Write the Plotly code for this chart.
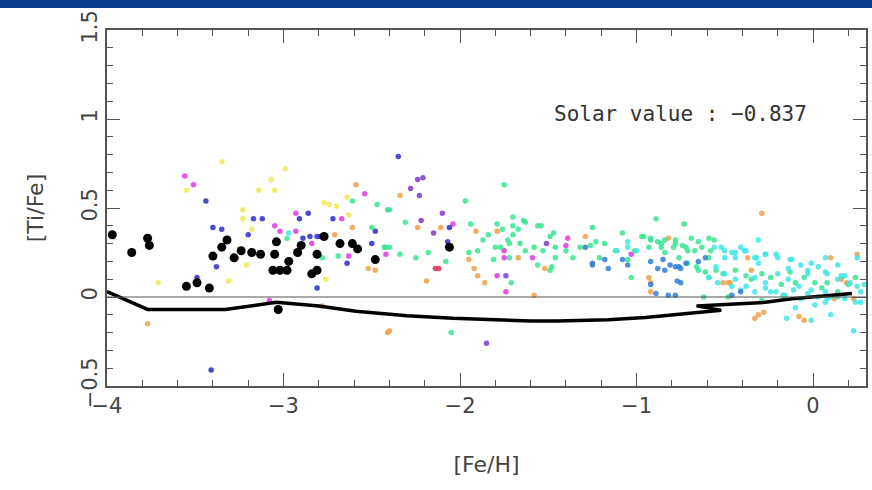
import plotly.graph_objects as go

# star samples, [Fe/H] vs [Ti/Fe], grouped by source colour
black_x = [-3.97, -3.86, -3.77, -3.76, -3.55, -3.49, -3.42, -3.40, -3.35, -3.32, -3.28, -3.24,
           -3.18, -3.13, -3.05, -3.04, -3.06, -3.02, -2.98, -2.97, -2.92, -2.90, -3.03, -2.84,
           -2.81, -2.81, -2.77, -2.68, -2.61, -2.58, -2.48, -2.06]
black_y = [0.35, 0.25, 0.33, 0.29, 0.06, 0.08, 0.05, 0.23, 0.28, 0.32, 0.22, 0.26,
           0.25, 0.24, 0.24, 0.31, 0.15, 0.15, 0.15, 0.20, 0.25, 0.29, -0.07, 0.13,
           0.15, 0.24, 0.34, 0.30, 0.30, 0.27, 0.21, 0.28]

yellow_x = [-3.35, -3.55, -3.07, -2.99, -3.14, -3.05, -3.23, -3.23, -3.18, -2.77, -2.74, -2.70,
            -2.64, -2.63, -3.25, -3.21, -3.71, -3.31, -2.76]
yellow_y = [0.76, 0.60, 0.66, 0.72, 0.60, 0.60, 0.49, 0.44, 0.38, 0.53, 0.52, 0.51,
            0.56, 0.46, 0.27, 0.18, 0.08, 0.09, 0.10]

magenta_x = [-3.56, -3.51, -2.93, -3.05, -3.02, -2.93, -2.84, -2.67, -3.27, -2.63, -3.08, -2.54,
             -2.42, -2.04, -1.39, -1.40, -1.75, -1.75, -1.59, -1.79, -1.74, -1.03]
magenta_y = [0.68, 0.63, 0.47, 0.40, 0.37, 0.37, 0.30, 0.44, 0.22, 0.23, -0.02, 0.58,
             0.24, 0.41, 0.33, 0.29, 0.26, 0.22, 0.22, 0.12, 0.03, 0.24]

blue_x = [-3.44, -3.40, -3.35, -3.17, -3.12, -3.20, -2.91, -2.86, -2.72, -2.89, -2.85, -2.81,
          -2.79, -2.64, -3.49, -3.38, -2.81, -3.41, -2.48, -2.50, -2.35, -2.07, -2.06]
blue_y = [0.54, 0.39, 0.38, 0.44, 0.44, 0.35, 0.44, 0.47, 0.44, 0.33, 0.34, 0.34,
          0.34, 0.19, 0.11, 0.17, 0.05, -0.41, 0.37, 0.30, 0.79, 0.31, 0.39]

purple_x = [-2.24, -2.21, -2.28, -2.23, -2.10, -2.22, -2.15, -1.51, -1.74, -1.85]
purple_y = [0.66, 0.67, 0.61, 0.57, 0.47, 0.43, 0.36, 0.30, 0.12, -0.26]

red_x = [-2.12, -2.14]
red_y = [0.16, 0.16]

orange_x = [-3.77, -2.78, -2.59, -2.61, -2.52, -2.48, -2.71, -2.41, -2.34, -2.11, -2.24, -1.91,
            -1.79, -1.29, -1.67, -1.95, -2.19, -1.92, -1.90, -1.86, -1.58, -1.52, -2.40, -0.29,
            -0.82, 0.10, 0.25, -0.37, -0.93, -0.92, -0.92, -0.51, -0.48, -0.35, 0.16, 0.19,
            0.23, 0.12, -0.33, -0.31, -0.28, -0.08, -0.05, -0.47]
orange_y = [-0.15, -0.05, 0.63, 0.39, 0.16, 0.15, 0.35, -0.20, 0.57, 0.39, 0.39, 0.37,
            0.37, 0.34, 0.22, 0.21, 0.09, 0.16, 0.12, 0.08, 0.01, 0.16, -0.19, 0.47,
            0.33, 0.22, 0.24, 0.22, 0.11, 0.08, 0.03, 0.08, 0.08, 0.15, 0.10, 0.08,
            -0.01, -0.01, -0.12, -0.10, -0.085, -0.11, -0.13, 0.08]

green_x = [-2.61, -2.47, -2.41, -2.50, -2.43, -2.69, -2.78, -2.98,
           -2.40, -1.75, -1.97, -2.31, -1.94, -1.79, -1.76, -1.70, -1.64, -1.63, -1.70, -1.67,
           -1.70, -1.73, -1.72, -1.87, -1.84, -1.56, -1.54, -1.47, -1.49, -1.25, -1.23, -1.26,
           -1.32, -1.58, -1.46, -1.53, -1.63, -1.66, -1.77, -1.80, -1.72, -1.81, -1.90, -1.95,
           -2.08, -2.18, -2.25, -2.34, -2.42, -2.40, -1.46, -1.36, -1.40, -1.21, -1.71, -1.49,
           -1.48, -1.56, -2.05,
           -0.89, -0.73, -1.08, -0.96, -0.92, -0.88, -0.84, -0.78, -0.74, -0.69, -0.65, -0.59,
           -0.56, -0.93, -0.86, -0.79, -0.71, -0.63, -0.58, -1.03, -0.62,
           -0.66, -0.61, -0.55, -0.51, -0.44, -0.38, -0.35, -0.29, -0.24, -0.18, -0.13, -0.10,
           -0.05, 0.01, 0.05, 0.08, 0.14, 0.20, 0.24, -0.29, -0.48,
           -0.97, -0.92, -0.86, -0.78, -0.72, -0.67, -0.59, -1.18, -1.12, -1.05, -1.01, -0.65,
           -0.59, -0.71, -0.76, -0.84]
green_y = [0.54, 0.52, 0.49, 0.39, 0.28, 0.23, 0.22, 0.33,
           0.49, 0.63, 0.54, 0.42, 0.41, 0.41, 0.38, 0.45, 0.43, 0.42, 0.40, 0.38,
           0.35, 0.32, 0.30, 0.32, 0.35, 0.40, 0.40, 0.36, 0.34, 0.39, 0.31, 0.29,
           0.28, 0.28, 0.28, 0.26, 0.26, 0.30, 0.28, 0.28, 0.22, 0.21, 0.26, 0.25,
           0.20, 0.25, 0.22, 0.24, 0.28, 0.28, 0.22, 0.22, 0.26, 0.22, 0.08, 0.15,
           0.17, 0.18, -0.20,
           0.44, 0.41, 0.36, 0.34, 0.33, 0.31, 0.32, 0.30, 0.29, 0.33, 0.31, 0.33,
           0.32, 0.28, 0.28, 0.28, 0.26, 0.28, 0.26, 0.11, 0.00,
           0.17, 0.14, 0.15, 0.13, 0.15, 0.12, 0.10, 0.13, 0.11, 0.07, 0.14, 0.08,
           0.11, 0.08, 0.05, 0.08, 0.03, 0.07, 0.11, -0.02, 0.00,
           0.34, 0.32, 0.30, 0.32, 0.28, 0.26, 0.22, 0.30, 0.26, 0.21, 0.26, 0.15,
           0.11, 0.19, 0.22, 0.25]

cyan_x = [-2.97, -0.31, -1.05,
          -0.52, -0.46, -0.41, -0.39, -0.50, -0.44, -0.32, -0.27, -0.21, -0.13, -0.01, 0.07,
          0.14, 0.25, -1.11, -1.05, -1.00,
          -0.59, -0.54, -0.46, -0.41, -0.33, -0.27, -0.21, -0.17, -0.11, -0.07, -0.03, 0.03,
          0.08, 0.14, 0.18, 0.24, 0.27, 0.29, -0.14, -0.03, 0.07, 0.16,
          -0.15, -0.10, -0.01, 0.10, 0.23, 0.27, 0.01, 0.07,
          -0.56, -0.50, -0.44, -0.38, -0.33, -0.31, -0.27, -0.20, -0.12, -0.07, -0.03, 0.03,
          0.08, 0.14, 0.18, 0.21, 0.25, -0.20, -0.14, -0.08, -0.01, 0.07, 0.10, -0.33,
          -0.27, -0.24, -0.16, -0.38, -0.44, -0.50, -0.55]
cyan_y = [0.36, 0.32, 0.31,
          0.28, 0.25, 0.28, 0.26, 0.22, 0.22, 0.22, 0.24, 0.24, 0.21, 0.19, 0.22,
          0.18, 0.22, 0.26, 0.28, 0.26,
          0.11, 0.08, 0.06, 0.04, 0.03, 0.05, 0.03, 0.01, 0.04, -0.01, 0.02, 0.00,
          -0.01, 0.00, -0.01, -0.03, 0.03, 0.07, 0.16, 0.15, 0.14, 0.12,
          -0.12, -0.06, -0.13, -0.10, -0.19, -0.03, -0.045, -0.03,
          0.28, 0.26, 0.25, 0.26, 0.22, 0.19, 0.24, 0.22, 0.21, 0.18, 0.13, 0.17,
          0.13, 0.10, 0.12, 0.08, 0.06, 0.13, 0.10, 0.06, 0.04, 0.03, 0.00, 0.11,
          0.08, 0.03, 0.01, 0.06, 0.10, 0.13, 0.17]

steel_x = [-1.29, -1.25, -1.18, -1.25, -1.16,
           -0.92, -0.85, -0.81, -0.76, -0.72, -0.65, -0.61, -1.08, -1.05,
           -0.88, -0.84, -0.78, -0.75,
           -0.92, -0.89, -0.82, -0.78, -0.77, -0.75, -0.46, -0.41]
steel_y = [0.28, 0.19, 0.21, 0.18, 0.16,
           0.20, 0.21, 0.18, 0.17, 0.19, 0.20, 0.22, 0.21, 0.18,
           0.16, 0.15, 0.17, 0.16,
           0.07, 0.02, 0.01, 0.01, 0.09, 0.08, 0.01, 0.03]

# chemical evolution model track
model_x = [-4.0, -3.77, -3.5, -3.33, -3.04, -2.8, -2.59, -2.3, -2.04, -1.76, -1.6, -1.45,
           -1.3, -1.16, -0.95, -0.78, -0.52, -0.66, -0.41, -0.27, -0.12, 0.0, 0.2, 0.22]
model_y = [0.03, -0.07, -0.07, -0.07, -0.03, -0.05, -0.08, -0.105, -0.12, -0.13, -0.135, -0.135,
           -0.133, -0.128, -0.115, -0.10, -0.075, -0.05, -0.04, -0.03, -0.01, 0.0, 0.02, 0.02]

solar_text = "Solar value : \u22120.837"

groups = [
    (yellow_x, yellow_y, "#f0ea55"),
    (magenta_x, magenta_y, "#e038e0"),
    (blue_x, blue_y, "#2b2bc8"),
    (purple_x, purple_y, "#7b3ccc"),
    (orange_x, orange_y, "#f0a048"),
    (red_x, red_y, "#e03058"),
    (green_x, green_y, "#36e68e"),
    (cyan_x, cyan_y, "#3ee6e6"),
    (steel_x, steel_y, "#2f7fd6"),
]

fig = go.Figure()

for xs, ys, color in groups:
    fig.add_trace(go.Scatter(
        x=xs, y=ys, mode="markers",
        marker={"size": 5.5, "color": color, "opacity": 0.85},
        showlegend=False, hoverinfo="skip",
    ))

fig.add_trace(go.Scatter(
    x=black_x, y=black_y, mode="markers",
    marker={"size": 9, "color": "black"},
    showlegend=False, hoverinfo="skip",
))

fig.add_trace(go.Scatter(
    x=model_x, y=model_y, mode="lines",
    line={"color": "black", "width": 3.5},
    showlegend=False, hoverinfo="skip",
))

fig.add_hline(y=0, line={"color": "#555555", "width": 1})

# header band
fig.add_shape(type="rect", xref="paper", yref="paper",
              x0=-0.2, x1=1.1, y0=1.062, y1=1.12,
              fillcolor="#0a3d8a", line={"width": 0}, layer="above")

fig.add_annotation(
    x=-1.48, y=1.03, xref="x", yref="y", text=solar_text, showarrow=False,
    xanchor="left", yanchor="middle",
    font={"family": "DejaVu Sans Mono", "size": 21, "color": "#333333"},
)

axis_common = {
    "showgrid": False, "zeroline": False,
    "showline": True, "linecolor": "#555555", "linewidth": 1.5,
    "mirror": "ticks", "ticks": "inside", "ticklen": 13, "tickwidth": 1.2,
    "tickcolor": "#555555",
    "tickfont": {"family": "DejaVu Sans", "size": 21, "color": "#444444"},
}

fig.update_layout(
    width=872, height=490,
    paper_bgcolor="white", plot_bgcolor="white",
    margin={"l": 107, "r": 4, "t": 30, "b": 104},
    xaxis={
        **axis_common,
        "range": [-4, 0.3], "dtick": 1, "tick0": 0,
        "minor": {"dtick": 0.2, "ticks": "inside", "ticklen": 6, "tickcolor": "#555555"},
        "title": {"text": "[Fe/H]", "standoff": 40,
                  "font": {"family": "DejaVu Sans", "size": 22, "color": "#444444"}},
    },
    yaxis={
        **axis_common,
        "range": [-0.5, 1.5], "dtick": 0.5, "tick0": 0, "tickangle": -90,
        "minor": {"dtick": 0.1, "ticks": "inside", "ticklen": 6, "tickcolor": "#555555"},
        "title": {"text": "[Ti/Fe]", "standoff": 28,
                  "font": {"family": "DejaVu Sans", "size": 22, "color": "#444444"}},
    },
)

fig.write_html("out.html", config={"displayModeBar": False},
               post_script="document.body.style.margin = '0';")
